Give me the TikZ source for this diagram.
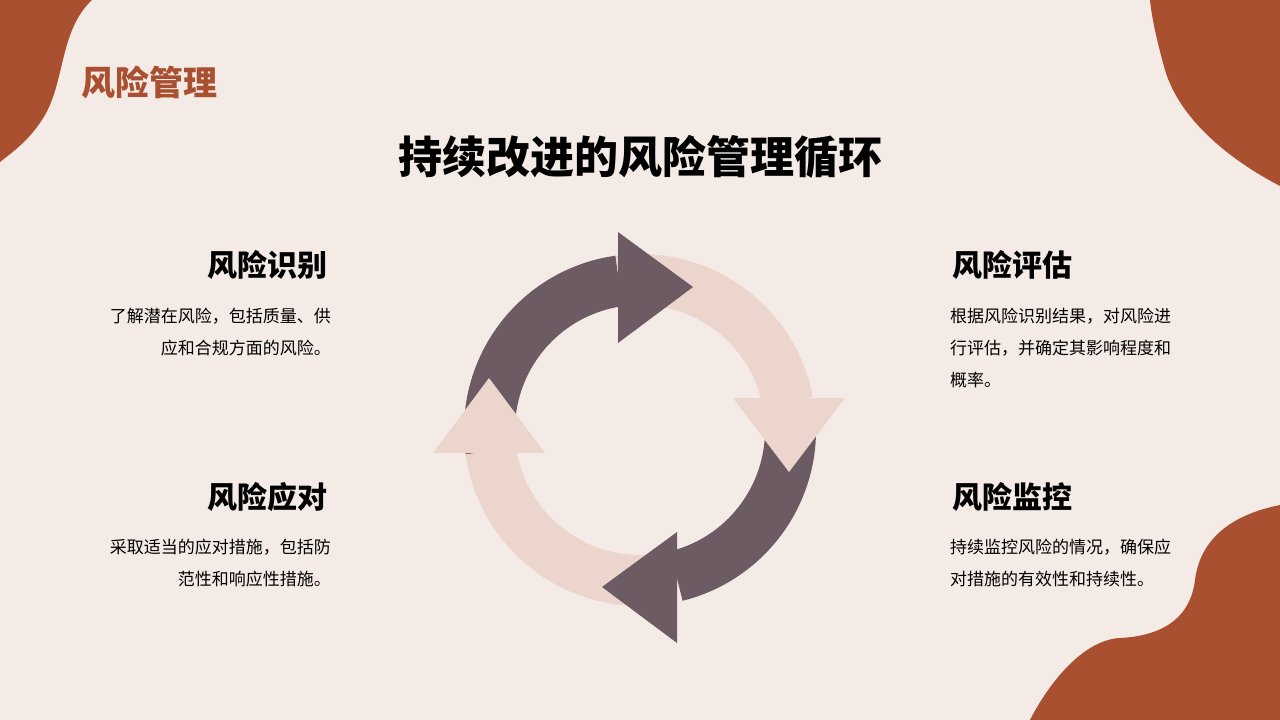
\documentclass[tikz,border=0pt]{standalone}
\usepackage{fontspec}
\setmainfont{Noto Sans CJK SC}
\definecolor{bg}{HTML}{F5EBE6}
\definecolor{rust}{HTML}{A8502F}
\definecolor{darkA}{HTML}{6C5B63}
\definecolor{lightA}{HTML}{EBD5CC}
\tikzset{
 head/.style={font=\bfseries\fontsize{30}{34}\selectfont},
 bodyR/.style={font=\fontsize{17}{32}\selectfont,align=right,anchor=north east,inner sep=0},
 bodyL/.style={font=\fontsize{17}{32}\selectfont,align=left,anchor=north west,inner sep=0},
}
\begin{document}
\begin{tikzpicture}[x=1pt,y=-1pt]
\fill[bg] (0,0) rectangle (1280,720);
\useasboundingbox (0,0) rectangle (1280,720);
% blobs
\fill[rust] (0,0) -- (92,0) .. controls (60,30) and (65,80) .. (45,115) .. controls (30,140) and (15,150) .. (0,162) -- cycle;
\fill[rust] (1150,0) -- (1280,0) -- (1280,186) .. controls (1230,160) and (1180,120) .. (1165,70) .. controls (1158,45) and (1152,20) .. (1150,0) -- cycle;
\fill[rust] (1030,720) .. controls (1045,690) and (1080,640) .. (1120,638) .. controls (1160,636) and (1190,620) .. (1195,580) .. controls (1200,540) and (1230,515) .. (1280,505) -- (1280,720) -- cycle;
% titles
\node[anchor=west,text=rust,font=\bfseries\fontsize{34}{40}\selectfont] (t1) at (78,82) {风险管理};
\node[font=\bfseries\fontsize{44}{50}\selectfont] (t2) at (640,157) {持续改进的风险管理循环};
% cycle
\begin{scope}[shift={(640,430)}]
\fill[darkA] (172:176) arc[start angle=172,end angle=262,radius=176] -- (262:125) arc[start angle=262,end angle=172,radius=125] -- cycle;
\fill[lightA] (262:176) arc[start angle=262,end angle=349,radius=176] -- (349:125) arc[start angle=349,end angle=262,radius=125] -- cycle;
\fill[darkA] (352:176) arc[start angle=352,end angle=436,radius=176] -- (436:125) arc[start angle=436,end angle=352,radius=125] -- cycle;
\fill[lightA] (78:176) arc[start angle=78,end angle=172,radius=176] -- (172:125) arc[start angle=172,end angle=78,radius=125] -- cycle;
\end{scope}
\fill[darkA] (618,232) -- (693,287) -- (618,343) -- cycle;
\fill[lightA] (733,398) -- (845,398) -- (789,472) -- cycle;
\fill[darkA] (677,532) -- (602,587) -- (677,643) -- cycle;
\fill[lightA] (433,453) -- (545,453) -- (489,378) -- cycle;
% left texts
\node[head,anchor=east] (h1) at (331,265) {风险识别};
\node[bodyR] (b1) at (331,308) {了解潜在风险，包括质量、供\\应和合规方面的风险。};
\node[head,anchor=east] (h3) at (331,497) {风险应对};
\node[bodyR] (b3) at (331,539) {采取适当的应对措施，包括防\\范性和响应性措施。};
% right texts
\node[head,anchor=west] (h2) at (949,265) {风险评估};
\node[bodyL] (b2) at (950,308) {根据风险识别结果，对风险进\\行评估，并确定其影响程度和\\概率。};
\node[head,anchor=west] (h4) at (949,497) {风险监控};
\node[bodyL] (b4) at (950,539) {持续监控风险的情况，确保应\\对措施的有效性和持续性。};
\end{tikzpicture}
\end{document}
